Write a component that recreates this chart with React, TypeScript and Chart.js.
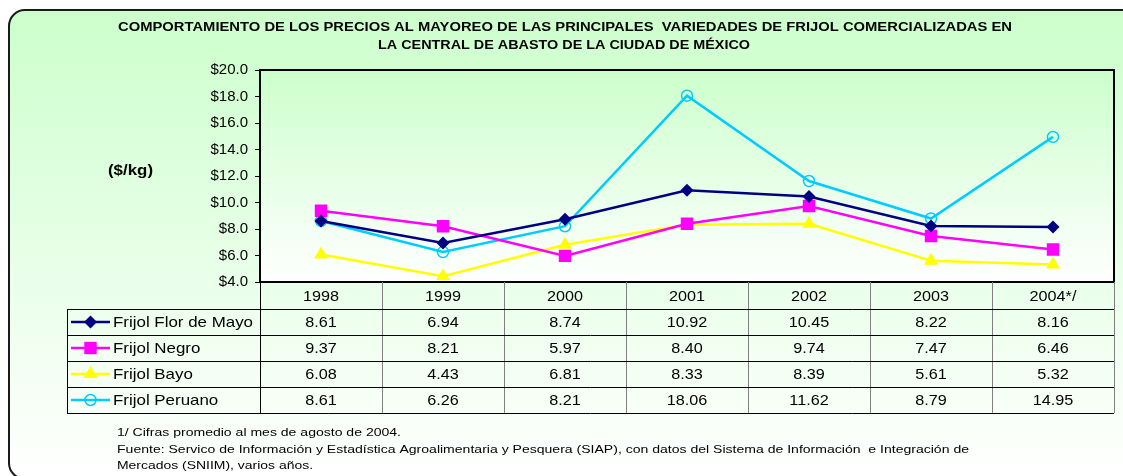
import React, { useEffect, useRef } from 'react';
import { Chart, registerables } from 'chart.js';

Chart.register(...registerables);

const years = ['1998', '1999', '2000', '2001', '2002', '2003', '2004*/'];
const florDeMayo = [8.61, 6.94, 8.74, 10.92, 10.45, 8.22, 8.16];
const negro = [9.37, 8.21, 5.97, 8.4, 9.74, 7.47, 6.46];
const bayo = [6.08, 4.43, 6.81, 8.33, 8.39, 5.61, 5.32];
const peruano = [8.61, 6.26, 8.21, 18.06, 11.62, 8.79, 14.95];
const seriesNames = ['Frijol Flor de Mayo', 'Frijol Negro', 'Frijol Bayo', 'Frijol Peruano'];
const seriesColors = ['#000080', '#ff00ff', '#ffff00', '#00ccff'];
const titleLines = [
  'COMPORTAMIENTO DE LOS PRECIOS AL MAYOREO DE LAS PRINCIPALES  VARIEDADES DE FRIJOL COMERCIALIZADAS EN',
  'LA CENTRAL DE ABASTO DE LA CIUDAD DE MÉXICO',
];
const yAxisLabel = '($/kg)';
const footnotes = [
  '1/ Cifras promedio al mes de agosto de 2004.',
  'Fuente: Servico de Información y Estadística Agroalimentaria y Pesquera (SIAP), con datos del Sistema de Información  e Integración de',
  'Mercados (SNIIM), varios años.',
];

const FONT = '"Liberation Sans", Arial, sans-serif';

function fmt(v: number) {
  return v.toFixed(2);
}

function drawFitted(ctx: CanvasRenderingContext2D, text: string, x: number, y: number, width: number, align: 'left' | 'center') {
  const w = ctx.measureText(text).width;
  const sx = width / w;
  ctx.save();
  ctx.textAlign = 'left';
  const startX = align === 'center' ? x - width / 2 : x;
  ctx.translate(startX, y);
  ctx.scale(sx, 1);
  ctx.fillText(text, 0, 0);
  ctx.restore();
}

function drawScaled(ctx: CanvasRenderingContext2D, text: string, x: number, y: number, sx: number, align: 'left' | 'center') {
  const w = ctx.measureText(text).width * sx;
  drawFitted(ctx, text, x, y, w, align);
}

function drawMarker(ctx: CanvasRenderingContext2D, idx: number, x: number, y: number) {
  ctx.save();
  const c = seriesColors[idx];
  ctx.fillStyle = c;
  ctx.strokeStyle = c;
  if (idx === 0) {
    const r = 6.5;
    ctx.beginPath();
    ctx.moveTo(x, y - r);
    ctx.lineTo(x + r, y);
    ctx.lineTo(x, y + r);
    ctx.lineTo(x - r, y);
    ctx.closePath();
    ctx.fill();
  } else if (idx === 1) {
    const s = 6.2;
    ctx.fillRect(x - s, y - s, 2 * s, 2 * s);
  } else if (idx === 2) {
    const r = 8;
    ctx.beginPath();
    ctx.moveTo(x, y - r);
    ctx.lineTo(x + r * 0.866, y + r * 0.5);
    ctx.lineTo(x - r * 0.866, y + r * 0.5);
    ctx.closePath();
    ctx.fill();
  } else {
    ctx.lineWidth = 1.5;
    ctx.beginPath();
    ctx.arc(x, y, 5.5, 0, Math.PI * 2);
    ctx.stroke();
  }
  ctx.restore();
}

const framePlugin = {
  id: 'frame',
  beforeDraw(chart: any) {
    const ctx: CanvasRenderingContext2D = chart.ctx;
    const W = chart.width;
    const H = chart.height;
    const ca = chart.chartArea;
    ctx.save();
    ctx.fillStyle = '#ffffff';
    ctx.fillRect(0, 0, W, H);
    const g = ctx.createLinearGradient(0, 10, 0, 476);
    g.addColorStop(0, '#ccffcc');
    g.addColorStop(1, '#ffffff');
    ctx.fillStyle = g;
    ctx.beginPath();
    ctx.roundRect(9, 10, 1130, 469, 16);
    ctx.fill();
    ctx.lineWidth = 2;
    ctx.strokeStyle = '#1a1a1a';
    ctx.stroke();
    const pg = ctx.createLinearGradient(0, ca.top, 0, ca.bottom);
    pg.addColorStop(0, '#ccffcc');
    pg.addColorStop(1, '#ffffff');
    ctx.fillStyle = pg;
    ctx.fillRect(ca.left, ca.top, ca.right - ca.left, ca.bottom - ca.top);
    ctx.restore();
  },
  afterDraw(chart: any) {
    const ctx: CanvasRenderingContext2D = chart.ctx;
    const ca = chart.chartArea;
    const xs = chart.scales.x;
    ctx.save();
    // plot border
    ctx.strokeStyle = '#000';
    ctx.lineWidth = 2;
    ctx.strokeRect(ca.left, ca.top, ca.right - ca.left, ca.bottom - ca.top);

    // title
    ctx.fillStyle = '#000';
    ctx.textBaseline = 'middle';
    ctx.font = `bold 13px ${FONT}`;
    drawFitted(ctx, titleLines[0], 565, 27, 894, 'center');
    drawFitted(ctx, titleLines[1], 564, 45, 372, 'center');

    // y label
    ctx.font = `bold 15px ${FONT}`;
    drawFitted(ctx, yAxisLabel, 108, 171, 45, 'left');

    // table
    const n = years.length;
    const colW = (ca.right - ca.left) / n;
    const headerTop = ca.bottom;
    const headerBottom = headerTop + 27;
    const rowH = 26;
    const tableLeft = 67;
    const tableBottom = headerBottom + rowH * 4;

    ctx.lineWidth = 1;
    ctx.strokeStyle = '#808080';
    for (let i = 1; i <= n; i++) {
      const x = Math.round(ca.left + i * colW) + 0.5;
      ctx.beginPath();
      ctx.moveTo(x, headerTop);
      ctx.lineTo(x, tableBottom);
      ctx.stroke();
    }
    ctx.strokeStyle = '#000';
    ctx.beginPath();
    ctx.moveTo(Math.round(ca.left) + 0.5, headerTop);
    ctx.lineTo(Math.round(ca.left) + 0.5, tableBottom);
    ctx.moveTo(tableLeft + 0.5, headerBottom);
    ctx.lineTo(tableLeft + 0.5, tableBottom);
    for (let r = 0; r <= 4; r++) {
      const y = Math.round(headerBottom + r * rowH) + 0.5;
      ctx.moveTo(tableLeft, y);
      ctx.lineTo(ca.right, y);
    }
    ctx.stroke();

    ctx.font = `15px ${FONT}`;
    ctx.fillStyle = '#000';
    const numScale = 1.08;
    years.forEach((yr, i) => {
      drawScaled(ctx, yr, xs.getPixelForValue(i), (headerTop + headerBottom) / 2 + 1, numScale, 'center');
    });

    const nameScale = 140 / ctx.measureText(seriesNames[0]).width;
    const allSeries = [florDeMayo, negro, bayo, peruano];
    allSeries.forEach((vals, s) => {
      const cy = headerBottom + rowH * s + rowH / 2 + 1;
      vals.forEach((v, i) => {
        drawScaled(ctx, fmt(v), xs.getPixelForValue(i), cy, numScale, 'center');
      });
      ctx.save();
      ctx.strokeStyle = seriesColors[s];
      ctx.lineWidth = 2.5;
      ctx.beginPath();
      ctx.moveTo(71, cy - 1);
      ctx.lineTo(110, cy - 1);
      ctx.stroke();
      ctx.restore();
      drawMarker(ctx, s, 90.5, cy - 1);
      drawScaled(ctx, seriesNames[s], 113, cy, nameScale, 'left');
    });

    // footnotes
    ctx.font = `11px ${FONT}`;
    ctx.fillStyle = '#000';
    const fy = [433, 450, 466];
    const fw = [284, 852, 196];
    footnotes.forEach((t, i) => drawFitted(ctx, t, 117, fy[i], fw[i], 'left'));
    ctx.restore();
  },
};

export default function App() {
  const ref = useRef<HTMLCanvasElement>(null);
  useEffect(() => {
    const canvas = ref.current!;
    const mk = (i: number, data: number[], extra: any) => ({
      label: seriesNames[i],
      data,
      borderColor: seriesColors[i],
      backgroundColor: seriesColors[i],
      pointBackgroundColor: seriesColors[i],
      pointBorderColor: seriesColors[i],
      borderWidth: 2.5,
      tension: 0,
      fill: false,
      ...extra,
    });
    const chart = new Chart(canvas, {
      type: 'line',
      data: {
        labels: years,
        datasets: [
          mk(0, florDeMayo, { pointStyle: 'rectRot', pointRadius: 6.5, pointBorderWidth: 0 }),
          mk(1, negro, { pointStyle: 'rect', pointRadius: 8.8, pointBorderWidth: 0 }),
          mk(2, bayo, { pointStyle: 'triangle', pointRadius: 8, pointBorderWidth: 0 }),
          mk(3, peruano, { pointStyle: 'circle', pointRadius: 5.5, pointBorderWidth: 1.5, pointBackgroundColor: 'rgba(0,0,0,0)' }),
        ],
      },
      options: {
        animation: false,
        responsive: false,
        devicePixelRatio: 1,
        layout: { padding: { left: 200, top: 70, right: 9, bottom: 194 } },
        plugins: {
          legend: { display: false },
          tooltip: { enabled: false },
          title: { display: false },
        },
        scales: {
          x: { display: false, offset: true },
          y: {
            min: 4,
            max: 20,
            ticks: {
              stepSize: 2,
              callback: (v: any) => '$' + Number(v).toFixed(1),
              font: { family: FONT, size: 15 },
              color: '#000',
              padding: 7,
            },
            grid: { drawOnChartArea: false, drawTicks: true, tickLength: 5, color: '#000', lineWidth: 1 },
            border: { display: true, color: '#000', width: 2 },
            afterFit: (s: any) => {
              s.width = 60;
            },
          },
        },
      },
      plugins: [framePlugin],
    });
    return () => chart.destroy();
  }, []);
  return (
    <div style={{ position: 'absolute', left: 0, top: 0, width: 1123, height: 476 }}>
      <canvas ref={ref} width={1123} height={476} style={{ display: 'block', width: 1123, height: 476 }} />
    </div>
  );
}
